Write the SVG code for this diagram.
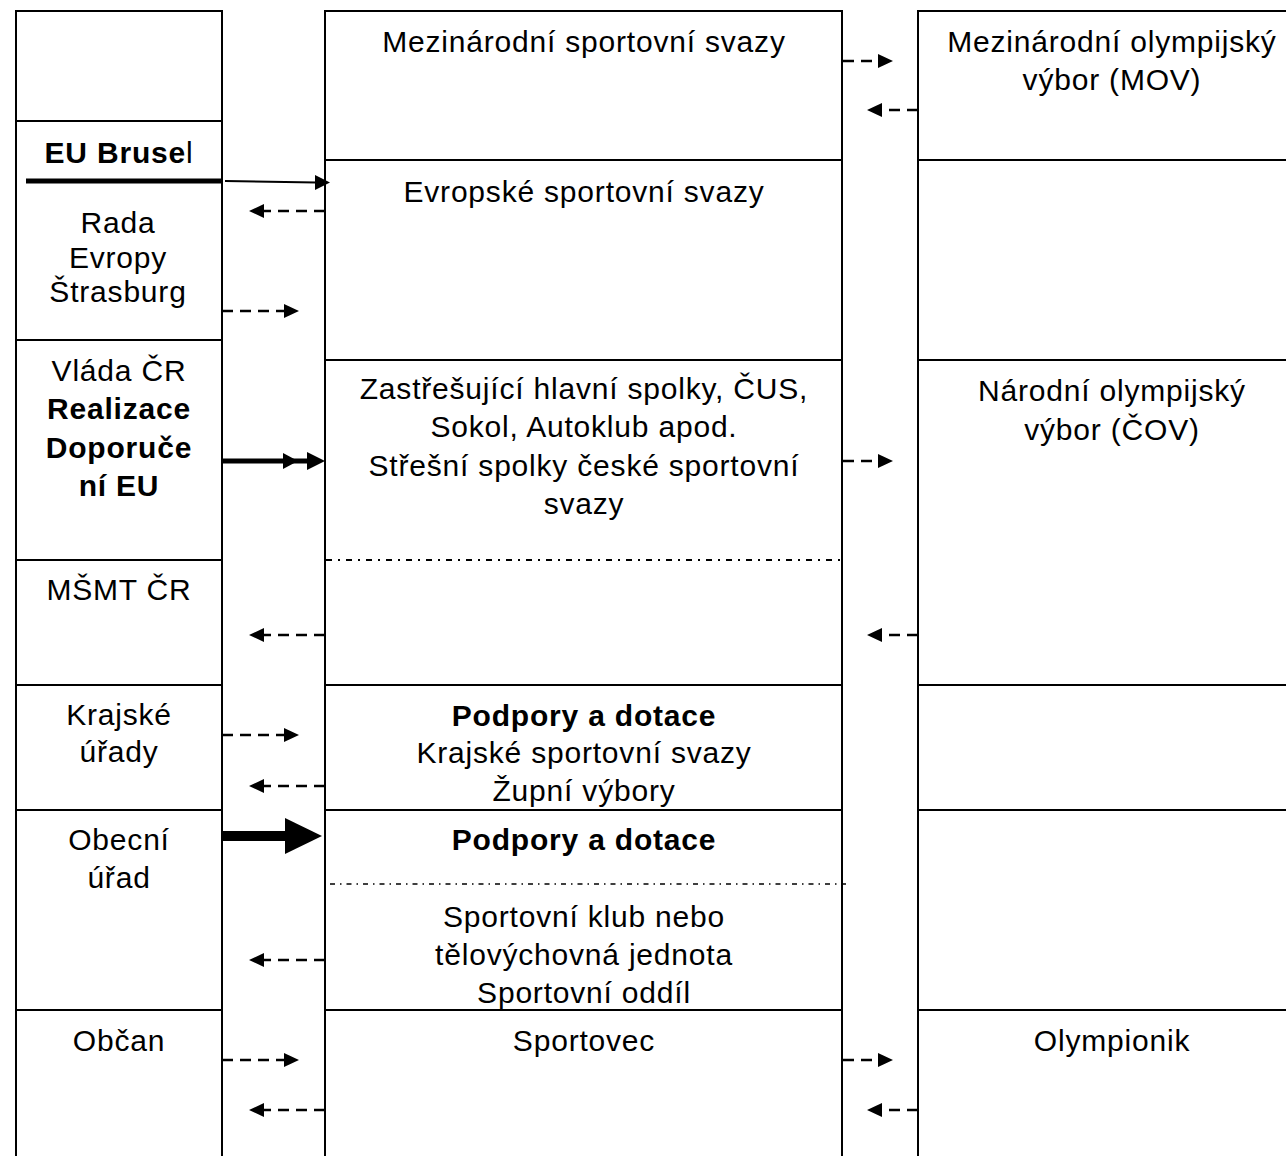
<svg xmlns="http://www.w3.org/2000/svg" width="1286" height="1156" viewBox="0 0 1286 1156">
<defs>
<style>
.box{fill:#fff;stroke:#000;stroke-width:2}
.t{font-family:"Liberation Sans",Arial,sans-serif;font-size:30px;letter-spacing:0.8px;fill:#000;text-anchor:middle}
.b{font-weight:bold}
.dd1{stroke:#000;stroke-width:2;stroke-dasharray:6 6 2 6;fill:none}
.dd2{stroke:#000;stroke-width:1.5;stroke-dasharray:5 5 1.5 5;fill:none}
.da{stroke:#000;stroke-width:2.5;stroke-dasharray:11 7;fill:none;marker-end:url(#ah)}
</style>
<marker id="ah" markerUnits="userSpaceOnUse" markerWidth="18" markerHeight="18" refX="4" refY="7" orient="auto">
<path d="M0,0 L15,7 L0,14 z" fill="#000"/>
</marker>
</defs>
<rect width="1286" height="1156" fill="#fff"/>

<!-- left column -->
<g id="left-empty"><rect class="box" x="16" y="11" width="206" height="110"/></g>
<g id="eu-brusel">
<rect class="box" x="16" y="121" width="206" height="219"/>
<text class="t" x="119" y="163"><tspan class="b">EU Bruse</tspan>l</text>
<line x1="26" y1="181" x2="222" y2="181" stroke="#000" stroke-width="5"/>
<text class="t" x="118" y="233">Rada</text>
<text class="t" x="118" y="268">Evropy</text>
<text class="t" x="118" y="302">Štrasburg</text>
</g>
<g id="vlada">
<rect class="box" x="16" y="340" width="206" height="220"/>
<text class="t" x="119" y="381">Vláda ČR</text>
<text class="t b" x="119" y="419">Realizace</text>
<text class="t b" x="119" y="458">Doporuče</text>
<text class="t b" x="119" y="496">ní EU</text>
</g>
<g id="msmt">
<rect class="box" x="16" y="560" width="206" height="125"/>
<text class="t" x="119" y="600">MŠMT ČR</text>
</g>
<g id="krajske-urady">
<rect class="box" x="16" y="685" width="206" height="125"/>
<text class="t" x="119" y="725">Krajské</text>
<text class="t" x="119" y="762">úřady</text>
</g>
<g id="obecni-urad">
<rect class="box" x="16" y="810" width="206" height="200"/>
<text class="t" x="119" y="850">Obecní</text>
<text class="t" x="119" y="888">úřad</text>
</g>
<g id="obcan">
<rect class="box" x="16" y="1010" width="206" height="160"/>
<text class="t" x="119" y="1051">Občan</text>
</g>

<!-- middle column -->
<g id="mez-svazy">
<rect class="box" x="325" y="11" width="517" height="149"/>
<text class="t" x="584" y="52">Mezinárodní sportovní svazy</text>
</g>
<g id="evr-svazy">
<rect class="box" x="325" y="160" width="517" height="200"/>
<text class="t" x="584" y="202">Evropské sportovní svazy</text>
</g>
<g id="strechy">
<rect class="box" x="325" y="360" width="517" height="325"/>
<text class="t" x="584" y="399">Zastřešující hlavní spolky, ČUS,</text>
<text class="t" x="584" y="437">Sokol, Autoklub apod.</text>
<text class="t" x="584" y="476">Střešní spolky české sportovní</text>
<text class="t" x="584" y="514">svazy</text>
<line class="dd1" x1="326" y1="560" x2="842" y2="560"/>
</g>
<g id="krajske-svazy">
<rect class="box" x="325" y="685" width="517" height="125"/>
<text class="t b" x="584" y="726">Podpory a dotace</text>
<text class="t" x="584" y="763">Krajské sportovní svazy</text>
<text class="t" x="584" y="801">Župní výbory</text>
</g>
<g id="klub">
<rect class="box" x="325" y="810" width="517" height="200"/>
<text class="t b" x="584" y="850">Podpory a dotace</text>
<line class="dd2" x1="330" y1="884" x2="846" y2="884"/>
<text class="t" x="584" y="927">Sportovní klub nebo</text>
<text class="t" x="584" y="965">tělovýchovná jednota</text>
<text class="t" x="584" y="1003">Sportovní oddíl</text>
</g>
<g id="sportovec">
<rect class="box" x="325" y="1010" width="517" height="160"/>
<text class="t" x="584" y="1051">Sportovec</text>
</g>

<!-- right column -->
<g id="mov">
<rect class="box" x="918" y="11" width="390" height="149"/>
<text class="t" x="1112" y="52">Mezinárodní olympijský</text>
<text class="t" x="1112" y="90">výbor (MOV)</text>
</g>
<g id="right-2"><rect class="box" x="918" y="160" width="390" height="200"/></g>
<g id="cov">
<rect class="box" x="918" y="360" width="390" height="325"/>
<text class="t" x="1112" y="401">Národní olympijský</text>
<text class="t" x="1112" y="440">výbor (ČOV)</text>
</g>
<g id="right-4"><rect class="box" x="918" y="685" width="390" height="125"/></g>
<g id="right-5"><rect class="box" x="918" y="810" width="390" height="200"/></g>
<g id="olympionik">
<rect class="box" x="918" y="1010" width="390" height="160"/>
<text class="t" x="1112" y="1051">Olympionik</text>
</g>

<!-- connectors -->
<g id="connectors">
<line x1="225" y1="181" x2="316" y2="182.5" stroke="#000" stroke-width="2"/>
<polygon points="315,175 330,182.5 315,190" fill="#000"/>
<line class="da" x1="325" y1="211" x2="260" y2="211"/>
<line class="da" x1="222" y1="311" x2="288" y2="311"/>
<line x1="222" y1="461" x2="310" y2="461" stroke="#000" stroke-width="5"/>
<polygon points="283,453 298,461 283,469" fill="#000"/>
<polygon points="307,452 325,461 307,470" fill="#000"/>
<line class="da" x1="325" y1="635" x2="260" y2="635"/>
<line class="da" x1="222" y1="735" x2="288" y2="735"/>
<line class="da" x1="325" y1="786" x2="260" y2="786"/>
<line x1="222" y1="836" x2="288" y2="836" stroke="#000" stroke-width="10"/>
<polygon points="285,818 322,836 285,854" fill="#000"/>
<line class="da" x1="325" y1="960" x2="260" y2="960"/>
<line class="da" x1="222" y1="1060" x2="288" y2="1060"/>
<line class="da" x1="325" y1="1110" x2="260" y2="1110"/>
<line class="da" x1="843" y1="61" x2="882" y2="61"/>
<line class="da" x1="918" y1="110" x2="878" y2="110"/>
<line class="da" x1="843" y1="461" x2="882" y2="461"/>
<line class="da" x1="918" y1="635" x2="878" y2="635"/>
<line class="da" x1="843" y1="1060" x2="882" y2="1060"/>
<line class="da" x1="918" y1="1110" x2="878" y2="1110"/>
</g>
</svg>
